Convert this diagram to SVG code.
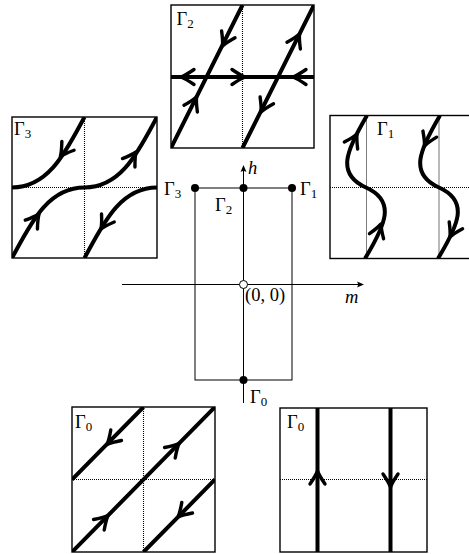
<svg xmlns="http://www.w3.org/2000/svg" xmlns:xlink="http://www.w3.org/1999/xlink" width="469" height="554" viewBox="0 0 469 554">
<style>
.bg{fill:#fff}
.box{fill:none;stroke:#000;stroke-width:1.4}
.dt{stroke:#000;stroke-width:1.1;stroke-dasharray:1 1;fill:none}
.thick{stroke:#000;stroke-width:4;fill:none}
.ah{stroke:#000;stroke-width:3.4;fill:none;stroke-linecap:round;stroke-linejoin:round}
.ax{stroke:#000;stroke-width:1;fill:none}
.nd{fill:#000}
.lbl{font-family:"Liberation Serif","Times New Roman",serif;font-size:18.5px;fill:#000}
.sub{font-size:13px}
.it{font-style:italic}
</style>
<defs>
<path id="ah" class="ah" d="M-13,-7.5 Q-5,-2 0,0 Q-5,2 -13,7.5"/>
<path id="sah" fill="#000" d="M0,0 L-7,-3 Q-5,0 -7,3 Z"/>
<clipPath id="c2"><rect x="171" y="5" width="143" height="143"/></clipPath>
<clipPath id="c3"><rect x="12" y="117" width="145" height="141"/></clipPath>
<clipPath id="c1"><rect x="330" y="115.5" width="146" height="143"/></clipPath>
<clipPath id="c0a"><rect x="72" y="407" width="143" height="145"/></clipPath>
<clipPath id="c0b"><rect x="280" y="408" width="147" height="144"/></clipPath>
</defs>
<rect class="bg" x="0" y="0" width="469" height="554"/>

<g id="panel-gamma2">
<g clip-path="url(#c2)">
<path class="dt" d="M242.5,5 V148 M171,76.5 H314"/>
<path class="thick" d="M171,148 L242.5,5 M242.5,148 L314,5 M171,77 H314"/>
<use xlink:href="#ah" transform="translate(196.5,97) rotate(-63.4)"/>
<use xlink:href="#ah" transform="translate(222.5,46) rotate(116.6)"/>
<use xlink:href="#ah" transform="translate(299.5,34) rotate(-63.4)"/>
<use xlink:href="#ah" transform="translate(261,112) rotate(116.6)"/>
<use xlink:href="#ah" transform="translate(181,77) rotate(180)"/>
<use xlink:href="#ah" transform="translate(245,77)"/>
<use xlink:href="#ah" transform="translate(293,77) rotate(180)"/>
</g>
<rect class="box" x="171" y="5" width="143" height="143"/>
<text class="lbl" x="176.5" y="25">Γ<tspan class="sub" dy="3">2</tspan></text>
</g>

<g id="panel-gamma3">
<g clip-path="url(#c3)">
<path class="dt" d="M84.5,117 V258 M12,187.5 H157"/>
<path class="thick" d="M12,258 C30,225 47,187.5 84.5,187.5 C122,187.5 139,150 157,117 M12,187.5 C49.5,187.5 66.5,150 84.5,117 M84.5,258 C102.5,225 119.5,187.5 157,187.5"/>
<use xlink:href="#ah" transform="translate(60.4,156.5) rotate(125.5)"/>
<use xlink:href="#ah" transform="translate(136,152) rotate(-56)"/>
<use xlink:href="#ah" transform="translate(39,214) rotate(-54)"/>
<use xlink:href="#ah" transform="translate(101,229) rotate(122)"/>
</g>
<rect class="box" x="12" y="117" width="145" height="141"/>
<text class="lbl" x="14" y="134.5">Γ<tspan class="sub" dy="3">3</tspan></text>
</g>

<g id="panel-gamma1">
<g clip-path="url(#c1)">
<path class="dt" d="M366.5,115.5 V258.5 M439,115.5 V258.5 M330,187.5 H476"/>
<path class="thick" d="M365,258.5 C386,224 396,201 366,187.5 C336,174 346,151 367,115.5 M438,258.5 C459,224 469,201 439,187.5 C409,174 419,151 440,115.5"/>
<use xlink:href="#ah" transform="translate(381,224) rotate(-70)"/>
<use xlink:href="#ah" transform="translate(357,134) rotate(-62.5)"/>
<use xlink:href="#ah" transform="translate(424.5,146) rotate(114)"/>
<use xlink:href="#ah" transform="translate(450,237) rotate(117)"/>
</g>
<rect class="box" x="330" y="115.5" width="146" height="143"/>
<text class="lbl" x="377" y="135">Γ<tspan class="sub" dy="3">1</tspan></text>
</g>

<g id="panel-gamma0-left">
<g clip-path="url(#c0a)">
<path class="dt" d="M143.5,407 V552 M72,479.5 H215"/>
<path class="thick" d="M72,479.5 L143.5,407 M72,552 L215,407 M143.5,552 L215,479.5"/>
<use xlink:href="#ah" transform="translate(107,444.5) rotate(134.6)"/>
<use xlink:href="#ah" transform="translate(179,443.5) rotate(-45.4)"/>
<use xlink:href="#ah" transform="translate(108,515.5) rotate(-45.4)"/>
<use xlink:href="#ah" transform="translate(178,517) rotate(134.6)"/>
</g>
<rect class="box" x="72" y="407" width="143" height="145"/>
<text class="lbl" x="75" y="428">Γ<tspan class="sub" dy="3">0</tspan></text>
</g>

<g id="panel-gamma0-right">
<g clip-path="url(#c0b)">
<path class="dt" d="M280,479.5 H427"/>
<path class="thick" d="M317.5,408 V552 M390.5,408 V552"/>
<use xlink:href="#ah" transform="translate(317.5,471) rotate(-90)"/>
<use xlink:href="#ah" transform="translate(390.5,487) rotate(90)"/>
</g>
<rect class="box" x="280" y="408" width="147" height="144"/>
<text class="lbl" x="287" y="428">Γ<tspan class="sub" dy="3">0</tspan></text>
</g>

<g id="connectors">
<rect class="ax" x="195" y="188" width="97" height="192"/>
<path class="ax" d="M243.5,403 V168 M122,284.5 H362"/>
<use xlink:href="#sah" transform="translate(243.5,165) rotate(-90)"/>
<use xlink:href="#sah" transform="translate(364,284.5)"/>
</g>

<g id="node-gamma3"><circle class="nd" cx="195" cy="188" r="4"/><text class="lbl" x="164" y="195">Γ<tspan class="sub" dy="3">3</tspan></text></g>
<g id="node-gamma2"><circle class="nd" cx="243.5" cy="188" r="4"/><text class="lbl" x="215" y="211">Γ<tspan class="sub" dy="3">2</tspan></text></g>
<g id="node-gamma1"><circle class="nd" cx="292" cy="188" r="4"/><text class="lbl" x="300" y="195">Γ<tspan class="sub" dy="3">1</tspan></text></g>
<g id="node-gamma0"><circle class="nd" cx="243.5" cy="380" r="4"/><text class="lbl" x="250" y="403">Γ<tspan class="sub" dy="3">0</tspan></text></g>
<g id="node-origin"><circle cx="243.5" cy="284.5" r="4" fill="#fff" stroke="#000" stroke-width="1"/><text class="lbl" x="245" y="301">(0, 0)</text></g>
<g id="axis-labels">
<text class="lbl it" x="248" y="174">h</text>
<text class="lbl it" x="345" y="303">m</text>
</g>
</svg>
